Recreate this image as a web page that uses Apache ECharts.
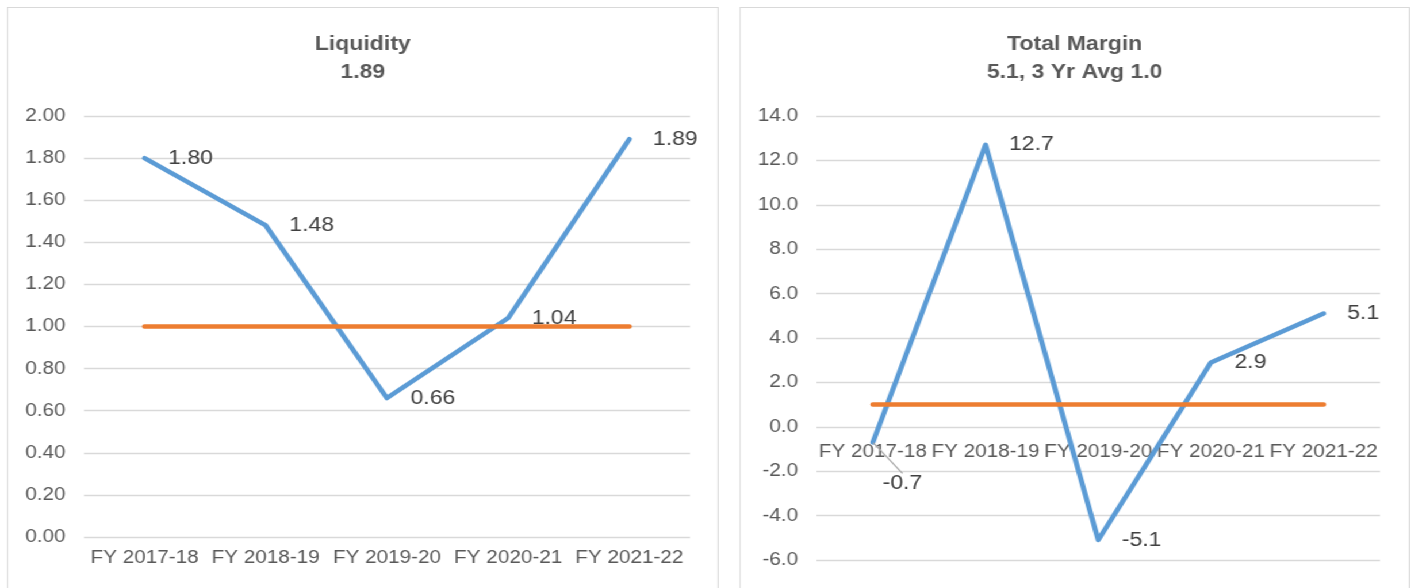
<!DOCTYPE html>
<html>
<head>
<meta charset="utf-8">
<script src="https://cdn.jsdelivr.net/npm/echarts@6/dist/echarts.min.js"></script>
<style>
  html, body { margin: 0; padding: 0; background: #ffffff; overflow: hidden; width: 1413px; height: 588px; }
  #wrap { position: absolute; left: 0; top: 0; width: 1229px; height: 588px; transform: scaleX(1.15); transform-origin: 0 0; }
  .panel { position: absolute; top: 7px; height: 640px; border: 1.4px solid #d9d9d9; box-sizing: border-box; background: #fff; }
  .chart { position: absolute; left: 0; top: 0; width: 100%; height: 100%; }
</style>
</head>
<body>
<div id="wrap">
  <div class="panel" style="left:6px; width:619px;"><div id="c1" class="chart"></div></div>
  <div class="panel" style="left:642.6px; width:583px;"><div id="c2" class="chart"></div></div>
</div>
<script>
// ---- data ----
const categories = ["FY 2017-18", "FY 2018-19", "FY 2019-20", "FY 2020-21", "FY 2021-22"];
const liquidity = [1.80, 1.48, 0.66, 1.04, 1.89];
const liquidityTarget = [1.00, 1.00, 1.00, 1.00, 1.00];
const totalMargin = [-0.7, 12.7, -5.1, 2.9, 5.1];
const marginAvg = [1.0, 1.0, 1.0, 1.0, 1.0];
const liquidityTitle = "Liquidity\n1.89";
const marginTitle = "Total Margin\n5.1, 3 Yr Avg 1.0";
const liquidityAxis = { min: 0, max: 2, interval: 0.2, decimals: 2 };
const marginAxis = { min: -6, max: 14, interval: 2, decimals: 1 };

const FONT = "'Liberation Sans', Arial, sans-serif";
const BLUE = "#5b9bd5", ORANGE = "#ed7d31", GRID = "#d9d9d9", TXT = "#595959", LBL = "#404040";

function makeOption(title, values, ref, axis, gridCfg, xMargin, atZero, moveFirstLabel) {
  // x axis sits on the value 0 line: shift it up from the grid bottom by the scale's own proportion
  const zeroOffset = atZero ? -gridCfg.height * (0 - axis.min) / (axis.max - axis.min) : 0;
  const seriesData = values.map((v, i) => (moveFirstLabel && i === 0)
    ? { value: v, labelLine: { show: true, lineStyle: { color: "#a6a6a6", width: 1.2 } } }
    : { value: v, labelLine: { show: false } });
  return {
    animation: false,
    backgroundColor: "transparent",
    title: {
      text: title, left: "center", top: 22, padding: 0,
      textStyle: { fontFamily: FONT, fontSize: 20, fontWeight: "bold", color: TXT, lineHeight: 28 }
    },
    grid: gridCfg,
    xAxis: {
      type: "category", data: categories, boundaryGap: true, offset: zeroOffset,
      axisLine: { show: false, onZero: false },
      axisTick: { show: false },
      axisLabel: { interval: 0, margin: xMargin, fontFamily: FONT, fontSize: 18, color: TXT, hideOverlap: false },
      splitLine: { show: false }
    },
    yAxis: {
      type: "value", min: axis.min, max: axis.max, interval: axis.interval,
      axisLine: { show: false }, axisTick: { show: false },
      axisLabel: { margin: 16, fontFamily: FONT, fontSize: 18, color: TXT,
        formatter: v => Number(v).toFixed(axis.decimals) },
      splitLine: { show: true, lineStyle: { color: GRID, width: 1.4 } }
    },
    series: [
      {
        type: "line", data: seriesData, showSymbol: true, symbol: "circle", symbolSize: 1, z: 3,
        itemStyle: { color: BLUE },
        lineStyle: { color: BLUE, width: 4.5, cap: "round", join: "round" },
        label: {
          show: true, position: "right", distance: 20,
          fontFamily: FONT, fontSize: 20, color: LBL,
          formatter: p => Number(p.value).toFixed(axis.decimals)
        },
        labelLine: { show: false },
        labelLayout: moveFirstLabel ? function (p) { return p.dataIndex === 0 ? { dx: -12, dy: 41 } : {}; } : undefined
      },
      {
        type: "line", data: ref, showSymbol: false, symbol: "none", z: 4,
        lineStyle: { color: ORANGE, width: 4.5, cap: "round" },
        label: { show: false }
      }
    ]
  };
}

const c1 = echarts.init(document.getElementById("c1"), null, { renderer: "canvas" });
c1.setOption(makeOption(liquidityTitle, liquidity, liquidityTarget, liquidityAxis,
  { left: 66, width: 527, top: 108, height: 421, containLabel: false }, 12, false, false));

const c2 = echarts.init(document.getElementById("c2"), null, { renderer: "canvas" });
c2.setOption(makeOption(marginTitle, totalMargin, marginAvg, marginAxis,
  { left: 66, width: 490, top: 108, height: 444, containLabel: false }, 16, true, true));
</script>
</body>
</html>
